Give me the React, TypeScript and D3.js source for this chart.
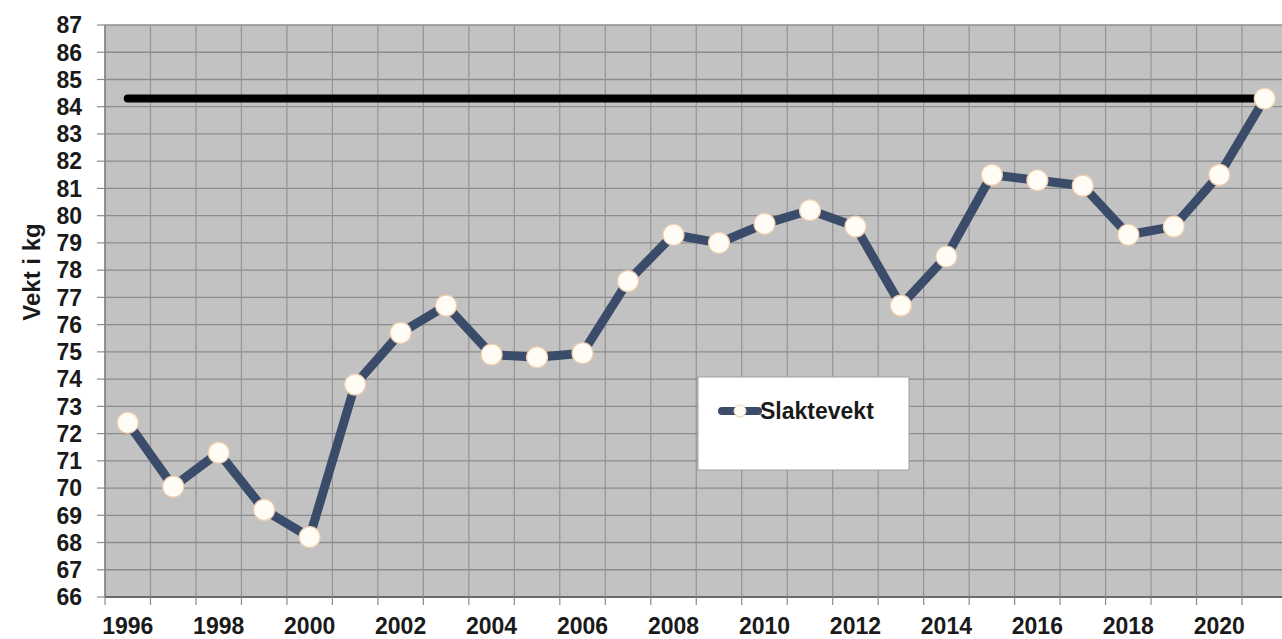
import React from "react";
import * as d3 from "d3";

const years = ["1996","1997","1998","1999","2000","2001","2002","2003","2004","2005","2006","2007","2008","2009","2010","2011","2012","2013","2014","2015","2016","2017","2018","2019","2020","2021"];
const slaktevekt = [72.4, 70.05, 71.3, 69.2, 68.2, 73.8, 75.7, 76.7, 74.9, 74.8, 74.95, 77.6, 79.3, 79.0, 79.7, 80.2, 79.6, 76.7, 78.5, 81.5, 81.3, 81.1, 79.3, 79.6, 81.5, 84.3];
const referenceLevel = 84.3;
const yTickValues = [66,67,68,69,70,71,72,73,74,75,76,77,78,79,80,81,82,83,84,85,86,87];
const xTickLabels = ["1996","1998","2000","2002","2004","2006","2008","2010","2012","2014","2016","2018","2020"];
const seriesName = "Slaktevekt";
const yTitle = "Vekt i kg";

const W = 1282, H = 639;
const plot = { left: 105, right: 1287.5, top: 25, bottom: 597 };
const FONT = "'Liberation Sans', Arial, Helvetica, sans-serif";

export default function App() {
  const x = d3.scaleBand<string>().domain(years).range([plot.left, plot.right]).padding(0);
  const y = d3.scaleLinear().domain([66, 87]).range([plot.bottom, plot.top]);
  const cx = (yr: string) => (x(yr) as number) + x.bandwidth() / 2;
  const line = d3.line<number>().x((_, i) => cx(years[i])).y((d) => y(d));
  const boundaries = years.map((yr) => x(yr) as number).concat([plot.right]);

  return (
    <svg width={W} height={H} style={{ position: "absolute", left: 0, top: 0, background: "#fff" }} fontFamily={FONT}>
      <rect x={plot.left} y={plot.top} width={plot.right - plot.left} height={plot.bottom - plot.top} fill="#c2c2c2" />
      {yTickValues.map((v) => (
        <line key={"h" + v} x1={plot.left} x2={plot.right} y1={y(v)} y2={y(v)} stroke="#8c8c8c" strokeWidth={1.3} />
      ))}
      {boundaries.map((b, i) => (
        <line key={"v" + i} x1={b} x2={b} y1={plot.top} y2={plot.bottom} stroke="#949494" strokeWidth={1.2} />
      ))}
      <line x1={plot.left} x2={plot.left} y1={plot.top} y2={plot.bottom} stroke="#7a7a7a" strokeWidth={1.2} />
      <line x1={plot.left} x2={plot.right} y1={plot.bottom} y2={plot.bottom} stroke="#6a6a6a" strokeWidth={2} />
      {yTickValues.map((v) => (
        <g key={"yt" + v}>
          <line x1={97} x2={plot.left} y1={y(v)} y2={y(v)} stroke="#8c8c8c" strokeWidth={1.2} />
          <text x={82} y={y(v)} dy="0.36em" textAnchor="end" fontSize={23} fontWeight="bold" fill="#1a1a1a">{v}</text>
        </g>
      ))}
      {boundaries.map((b, i) => (
        <line key={"xt" + i} x1={b} x2={b} y1={plot.bottom} y2={plot.bottom + 8} stroke="#8c8c8c" strokeWidth={1.2} />
      ))}
      {xTickLabels.map((lab) => (
        <text key={"xl" + lab} x={cx(lab)} y={634} textAnchor="middle" fontSize={23} fontWeight="bold" fill="#1a1a1a">{lab}</text>
      ))}
      <text transform={`translate(32,272) rotate(-90)`} dy="0.35em" textAnchor="middle" fontSize={24} fontWeight="bold" fill="#1a1a1a">{yTitle}</text>
      <line x1={cx(years[0])} x2={cx(years[years.length - 1])} y1={y(referenceLevel)} y2={y(referenceLevel)} stroke="#000" strokeWidth={8} strokeLinecap="round" />
      <path d={line(slaktevekt) as string} fill="none" stroke="#3b4c6a" strokeWidth={9} strokeLinejoin="round" />
      {slaktevekt.map((v, i) => (
        <circle key={"m" + i} cx={cx(years[i])} cy={y(v)} r={10.5} fill="#fffcf6" stroke="#f0cfae" strokeWidth={1.2} />
      ))}
      <rect x={698} y={377} width={211} height={93} fill="#fff" stroke="#a0a0a0" strokeWidth={1} />
      <line x1={722} x2={758} y1={411} y2={411} stroke="#3b4c6a" strokeWidth={8} strokeLinecap="round" />
      <circle cx={740} cy={411} r={6} fill="#fffcf6" stroke="#f0cfae" strokeWidth={1} />
      <text x={760} y={411} dy="0.36em" fontSize={23} fontWeight="bold" fill="#1a1a1a">{seriesName}</text>
    </svg>
  );
}
